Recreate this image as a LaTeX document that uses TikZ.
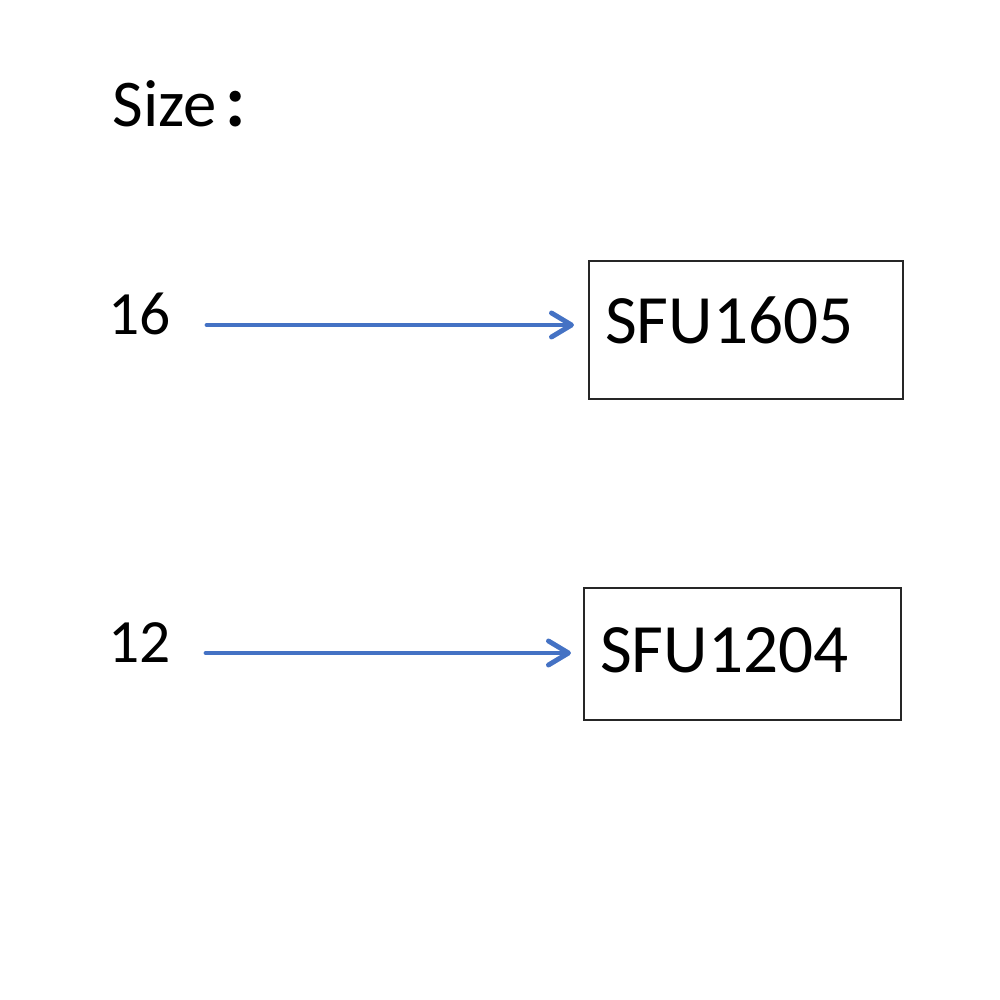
\documentclass[tikz,border=0pt]{standalone}
\usepackage{fontspec}
\setmainfont{Carlito}
\newfontfamily\cjk{Noto Sans CJK SC}
\usetikzlibrary{arrows.meta}
\definecolor{arrowblue}{RGB}{68,114,196}

\begin{document}
\begin{tikzpicture}[
		label/.style={inner sep=0pt, anchor=base west, font=\fontsize{17.5}{20}\selectfont},
		partbox/.style={draw=black!85, line width=0.6pt, inner xsep=0.16cm, inner ysep=0pt,
			align=left, font=\fontsize{19.7}{23}\selectfont, text height=0.45cm},
		flow/.style={draw=arrowblue, line width=1.4pt, line cap=round,
			-{Straight Barb[length=0.2cm, width=0.24cm, line cap=round, line join=round]}}
	]
			%%%%% START %%%%%
			
			\useasboundingbox (0, 0) rectangle (10, 10);
			
			\node[label, font=\fontsize{19}{22}\selectfont] (size) at (1.12, 8.73) {Size\kern1.5pt{\cjk\bfseries\fontsize{15}{18}\selectfont ：}};
			
			\node[label] (n16) at (1.08, 6.65) {16};
			\node[label] (n12) at (1.08, 3.37) {12};
			
			\node[partbox, text width=2.82cm, minimum height=1.38cm, text depth=0.17cm] (sfu1605) at (7.46, 6.70) {SFU1605};
			\node[partbox, text width=2.85cm, minimum height=1.32cm, text depth=0.07cm] (sfu1204) at (7.425, 3.46) {SFU1204};
			
			\coordinate (from16) at (2.07, 6.75);
			\coordinate (from12) at (2.06, 3.47);
			
			\draw[flow, shorten >=0.14cm] (from16) -- (from16 -| sfu1605.west);
			\draw[flow, shorten >=0.12cm] (from12) -- (from12 -| sfu1204.west);
			
			%%%%% END %%%%%
		\end{tikzpicture}
\end{document}
